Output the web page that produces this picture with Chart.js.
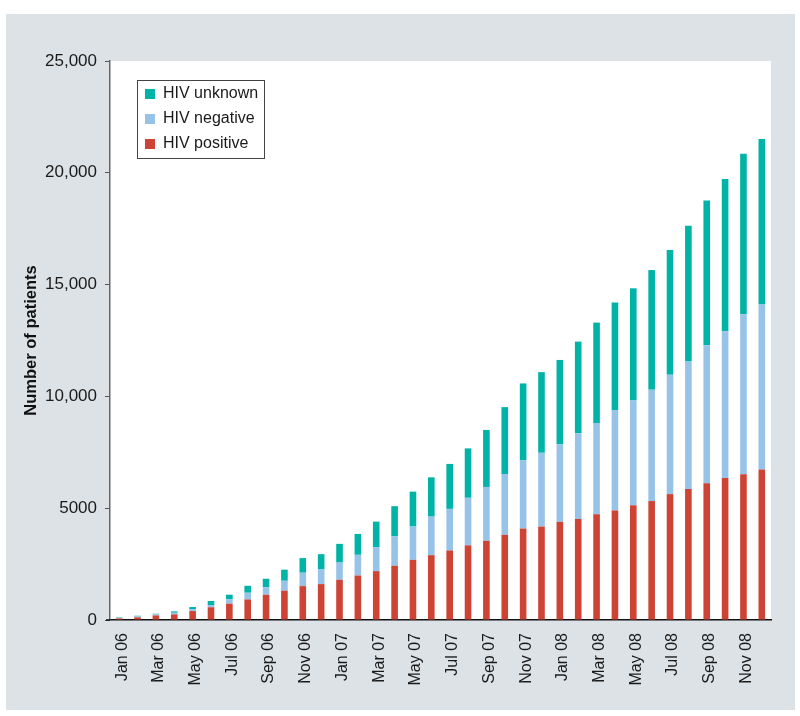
<!DOCTYPE html>
<html>
<head>
<meta charset="utf-8">
<script src="https://cdn.jsdelivr.net/npm/chart.js@4.4.0/dist/chart.umd.min.js"></script>
<style>
html,body{margin:0;padding:0;background:#ffffff;}
#wrap{width:800px;height:716px;position:relative;}
</style>
</head>
<body>
<div id="wrap"><canvas id="c" width="800" height="716"></canvas></div>
<script>
const months = [
  'Jan 06','Feb 06','Mar 06','Apr 06','May 06','Jun 06','Jul 06','Aug 06','Sep 06','Oct 06','Nov 06','Dec 06',
  'Jan 07','Feb 07','Mar 07','Apr 07','May 07','Jun 07','Jul 07','Aug 07','Sep 07','Oct 07','Nov 07','Dec 07',
  'Jan 08','Feb 08','Mar 08','Apr 08','May 08','Jun 08','Jul 08','Aug 08','Sep 08','Oct 08','Nov 08','Dec 08'
];
const hivPositive = [70,120,205,250,400,570,730,920,1130,1310,1515,1605,1800,1990,2185,2425,2690,2900,3110,3340,3540,3810,4090,4180,4390,4520,4730,4900,5130,5320,5630,5860,6120,6350,6515,6730];
const hivNegative = [30,40,45,75,90,100,190,300,340,445,600,655,770,925,1075,1325,1490,1725,1860,2125,2410,2720,3050,3300,3470,3830,4080,4490,4690,4980,5340,5700,6170,6565,7155,7380];
const hivUnknown  = [20,30,30,60,90,180,210,310,375,495,655,685,835,935,1140,1340,1560,1755,2010,2210,2550,2990,3440,3605,3770,4100,4490,4810,5015,5350,5580,6070,6470,6810,7185,7400];
const yTickValues = [0,5000,10000,15000,20000,25000];
const seriesNames = ['HIV positive','HIV negative','HIV unknown'];
const seriesColors = ['#cd4334','#97c3e9','#00b3a7'];

Chart.defaults.font.family = '"Liberation Sans", Arial, Helvetica, sans-serif';
Chart.defaults.font.size = 16;
Chart.defaults.color = '#1a1a1a';

const bgPlugin = {
  id: 'bg',
  beforeDraw(chart) {
    const ctx = chart.ctx, a = chart.chartArea;
    ctx.save();
    ctx.fillStyle = '#ffffff';
    ctx.fillRect(0, 0, chart.width, chart.height);
    ctx.fillStyle = '#dde2e6';
    ctx.fillRect(6, 14, 789, 696);
    ctx.fillStyle = '#ffffff';
    ctx.fillRect(a.left, a.top, a.right - a.left, a.bottom - a.top);
    ctx.restore();
  },
  afterDraw(chart) {
    const ctx = chart.ctx, a = chart.chartArea;
    ctx.save();
    ctx.strokeStyle = '#111111';
    ctx.lineWidth = 1.5;
    ctx.beginPath();
    ctx.moveTo(a.left - 4, a.bottom);
    ctx.lineTo(a.left, a.bottom);
    ctx.stroke();
    ctx.restore();
  }
};

const legendPlugin = {
  id: 'boxLegend',
  afterDraw(chart) {
    const ctx = chart.ctx;
    const x = 137, y = 80, w = 127, h = 78;
    ctx.save();
    ctx.fillStyle = '#ffffff';
    ctx.fillRect(x, y, w, h);
    ctx.strokeStyle = '#444444';
    ctx.lineWidth = 1;
    ctx.strokeRect(x + 0.5, y + 0.5, w, h);
    const ds = chart.data.datasets.slice().reverse();
    ctx.font = '16px "Liberation Sans", Arial, sans-serif';
    ctx.textBaseline = 'middle';
    ds.forEach((d, i) => {
      const cy = y + 14 + i * 25;
      ctx.fillStyle = d.backgroundColor;
      ctx.fillRect(x + 8, cy - 5, 10, 10);
      ctx.fillStyle = '#1a1a1a';
      ctx.fillText(d.label, x + 26, cy);
    });
    ctx.restore();
  }
};

new Chart(document.getElementById('c'), {
  type: 'bar',
  data: {
    labels: months,
    datasets: [
      { label: seriesNames[0], data: hivPositive, backgroundColor: seriesColors[0] },
      { label: seriesNames[1], data: hivNegative, backgroundColor: seriesColors[1] },
      { label: seriesNames[2], data: hivUnknown, backgroundColor: seriesColors[2] }
    ]
  },
  options: {
    responsive: false,
    animation: false,
    devicePixelRatio: 1,
    datasets: { bar: { barPercentage: 0.36, categoryPercentage: 1.0, borderWidth: 0 } },
    layout: { padding: { left: 0, top: 61, right: 29, bottom: 0 } },
    plugins: { legend: { display: false }, tooltip: { enabled: false }, title: { display: false } },
    scales: {
      x: {
        stacked: true,
        grid: { display: true, drawOnChartArea: false, drawTicks: false },
        border: { display: true, color: '#111111', width: 1.5 },
        ticks: {
          autoSkip: false, maxRotation: 90, minRotation: 90, padding: 13, labelOffset: 3,
          color: '#1a1a1a', font: { size: 16 },
          callback: function(v, i) { return i % 2 === 0 ? months[i] : ''; }
        },
        afterFit(scale) { scale.height = 96; }
      },
      y: {
        stacked: true,
        min: 0, max: 25000,
        afterBuildTicks(scale) { scale.ticks = yTickValues.map(v => ({ value: v })); },
        grid: { display: true, drawOnChartArea: false, drawTicks: true, tickLength: 5, color: '#555555' },
        border: { display: true, color: '#666666', width: 1.5 },
        ticks: {
          padding: 8, color: '#1a1a1a', font: { size: 17 },
          callback: function(v) { return v >= 10000 ? v.toLocaleString('en-US') : String(v); }
        },
        title: {
          display: true, text: 'Number of patients', color: '#111111',
          font: { size: 16.5, weight: 'bold' }, padding: { top: 22, bottom: 0 }
        },
        afterFit(scale) { scale.width = 110; }
      }
    }
  },
  plugins: [bgPlugin, legendPlugin]
});
</script>
</body>
</html>
